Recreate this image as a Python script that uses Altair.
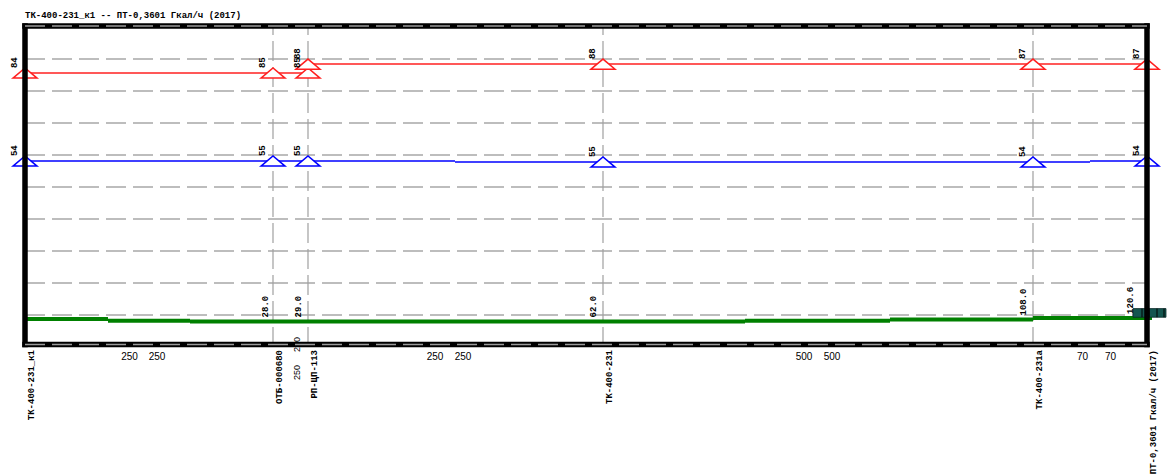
import altair as alt
import pandas as pd

# ---------------- data ----------------
XD = [0, 1122]
YD = [0, 100]

node_x = [0, 248, 283, 578, 1008, 1122]
node_names = ["ТК-400-231_к1", "ОТБ-000680", "РП-ЦП-113", "ТК-400-231",
              "ТК-400-231а", "ПТ-0,3601 Гкал/ч (2017)"]
inner_nodes = [248, 283, 578, 1008]

# supply head (red)
red_x1 = [0, 283]
red_x2 = [283, 1122]
red_y = [85.6, 88.4]
red_mx = [0, 248, 283, 283, 578, 1008, 1122]
red_my = [85.6, 85.6, 85.6, 88.4, 88.4, 88.4, 88.4]
red_lab = ["84", "85", "85", "88", "88", "87", "87"]

# return head (blue)
blue_x1 = [0, 430, 1065]
blue_x2 = [430, 1065, 1122]
blue_y = [58.1, 57.8, 58.1]
blue_my = [58.1, 58.1, 58.1, 57.8, 57.8, 58.1]
blue_lab = ["54", "55", "55", "55", "54", "54"]

# ground (green)
green_x1 = [0, 83, 165, 720, 865, 1008]
green_x2 = [83, 165, 720, 865, 1008, 1127]
green_y = [8.75, 8.2, 8.0, 8.2, 8.6, 9.1]
green_lx = [239.5, 272.5, 567.5, 997.5, 1104.5]
green_ly = [8.0, 8.0, 8.0, 8.6, 9.1]
green_lab = ["28.0", "29.0", "62.0", "108.0", "120.6"]

# segment length labels
seg_lx = [104.5, 132, 410, 438, 779, 807, 1057.5, 1085.5]
seg_lab = ["250", "250", "250", "250", "500", "500", "70", "70"]
short_lx = [272, 272]
short_lab = ["250", "250"]
short_off = [33, 5]

# consumer block at the end
blk_x = [1108, 1141]
blk_y = [9.3, 12.0]
blk_ticks = [1117, 1124, 1132, 1139]

grid_y = [10, 20, 30, 40, 50, 60, 70, 80, 90]
frame_top, frame_bottom = 100.3, 0.8

MONO = "Liberation Mono"
SANS = "Liberation Sans"
MW = "bold"

xs = alt.Scale(domain=XD)
ys = alt.Scale(domain=YD)


def X(f="x"):
    return alt.X(f"{f}:Q", scale=xs, axis=None)


def Y(f="y"):
    return alt.Y(f"{f}:Q", scale=ys, axis=None)


def hrules(x1, x2, y, color, width, dash=None, cap="butt"):
    df = pd.DataFrame({"x": x1, "x2": x2, "y": y})
    kw = dict(color=color, strokeWidth=width, strokeCap=cap)
    if dash:
        kw["strokeDash"] = dash
    return alt.Chart(df).mark_rule(**kw).encode(x=X(), x2="x2:Q", y=Y())


def vrules(x, y1, y2, color, width, dash=None, cap="butt"):
    df = pd.DataFrame({"x": x, "y": y1, "y2": y2})
    kw = dict(color=color, strokeWidth=width, strokeCap=cap)
    if dash:
        kw["strokeDash"] = dash
    return alt.Chart(df).mark_rule(**kw).encode(x=X(), y=Y(), y2="y2:Q")


layers = []
# grid
layers.append(hrules([0] * len(grid_y), [1122] * len(grid_y), grid_y, "#a8a8a8", 1.5, [20, 7]))
layers.append(vrules(inner_nodes, [0] * 4, [100] * 4, "#a0a0a0", 1.2, [20, 6]))

# lines
layers.append(hrules(green_x1, green_x2, green_y, "#008000", 4))
layers.append(hrules(blue_x1, blue_x2, blue_y, "#0000ff", 1.5))
layers.append(hrules(red_x1, red_x2, red_y, "#ff2020", 1.5))

TRI = "M-1,0.42L0,-0.42L1,0.42Z"
red_df = pd.DataFrame({"x": red_mx, "y": red_my, "t": red_lab})
blue_df = pd.DataFrame({"x": node_x, "y": blue_my, "t": blue_lab})
for df, col in [(red_df, "#ff2020"), (blue_df, "#0000ff")]:
    layers.append(alt.Chart(df).mark_point(shape=TRI, size=576, filled=True, fill="white",
                                           stroke=col, strokeWidth=1.5, opacity=1)
                  .encode(x=X(), y=Y()))
    layers.append(alt.Chart(df).mark_text(angle=270, align="left", baseline="middle",
                                          font=MONO, fontSize=9, fontWeight=MW, color="black",
                                          xOffset=-11.5, yOffset=-5)
                  .encode(x=X(), y=Y(), text="t:N"))

# green labels
gdf = pd.DataFrame({"x": green_lx, "y": green_ly, "t": green_lab})
layers.append(alt.Chart(gdf).mark_text(angle=270, align="left", baseline="middle",
                                       font=MONO, fontSize=9, fontWeight=MW, color="black",
                                       yOffset=-4)
              .encode(x=X(), y=Y(), text="t:N"))

# short segment rotated labels
sdf = pd.DataFrame({"x": short_lx, "y": [0, 0], "t": short_lab})
for i in range(2):
    layers.append(alt.Chart(sdf.iloc[[i]]).mark_text(angle=270, align="left", baseline="middle",
                                                      font=SANS, fontSize=9, color="black",
                                                      yOffset=short_off[i])
                  .encode(x=X(), y=Y(), text="t:N"))

# end block
bdf = pd.DataFrame({"x": [blk_x[0]], "x2": [blk_x[1]], "y": [blk_y[0]], "y2": [blk_y[1]]})
layers.append(alt.Chart(bdf).mark_rect(color="#14564f", stroke="#0a2a28", strokeWidth=0.8)
              .encode(x=X(), x2="x2:Q", y=Y(), y2="y2:Q"))
layers.append(vrules(blk_ticks, [blk_y[0]] * 4, [blk_y[1]] * 4, "black", 1))

# frame
layers.append(vrules([0, 1122], [frame_bottom, frame_bottom], [frame_top, frame_top], "black", 5.5, cap="square"))
layers.append(hrules([0, 0], [1122, 1122], [frame_top, frame_bottom], "black", 5.5, cap="square"))
layers.append(hrules([0, 0], [1122, 1122], [frame_top, frame_bottom], "#9a9a9a", 1.5, [20, 7]))

# labels below the axis
ndf = pd.DataFrame({"x": node_x, "y": [0] * 6, "t": node_names})
layers.append(alt.Chart(ndf).mark_text(angle=270, align="right", baseline="middle",
                                       font=MONO, fontSize=9, fontWeight=MW, color="black",
                                       xOffset=6, yOffset=3)
              .encode(x=X(), y=Y(), text="t:N"))
segdf = pd.DataFrame({"x": seg_lx, "y": [0] * len(seg_lx), "t": seg_lab})
layers.append(alt.Chart(segdf).mark_text(align="center", baseline="middle",
                                         font=SANS, fontSize=10, color="black", yOffset=10)
              .encode(x=X(), y=Y(), text="t:N"))

chart = alt.layer(*layers).properties(
    width=1122, height=320,
    padding={"left": 25, "top": 27, "right": 26, "bottom": 127},
    autosize=alt.AutoSizeParams(type="none"),
    title=alt.TitleParams(text="ТК-400-231_к1 -- ПТ-0,3601 Гкал/ч (2017)", anchor="start",
                          frame="group", font=MONO, fontSize=9, fontWeight="bold",
                          color="black", offset=2),
    background="white",
).configure_view(stroke=None)

chart.save("out.html", embed_options={"renderer": "svg", "actions": False})
